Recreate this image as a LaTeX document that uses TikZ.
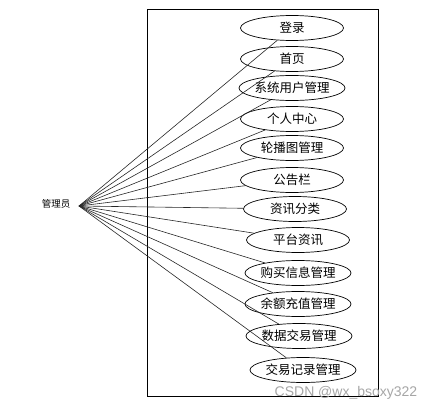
\documentclass[tikz,border=0pt]{standalone}
\usepackage{fontspec}
\newfontfamily\cjk{Noto Sans CJK SC}
\setsansfont{Liberation Sans}
\usetikzlibrary{shapes.geometric}
\begin{document}
\begin{tikzpicture}[x=1pt,y=-1pt,
  usecase/.style={ellipse,draw=black,fill=white,line width=0.7pt,minimum width=103pt,minimum height=25pt,inner sep=0pt,font=\cjk\fontsize{12.5}{14}\selectfont},
  assoc/.style={draw=black!85,line width=0.6pt},
  sysbox/.style={draw=black,line width=0.8pt}]
\useasboundingbox (0,0) rectangle (439,412);
\node[sysbox,minimum width=231pt,minimum height=387pt,inner sep=0pt,anchor=north west] (box) at (147,9) {};
\coordinate (actor) at (79,206);
\node[font=\cjk\fontsize{9.5}{11}\selectfont,anchor=east] (lbl) at (74,204) {管理员};
\node[usecase] (u1) at (292,28) {登录};
\node[usecase] (u2) at (292,59) {首页};
\node[usecase] (u3) at (292,88) {系统用户管理};
\node[usecase] (u4) at (292,119) {个人中心};
\node[usecase] (u5) at (292,148) {轮播图管理};
\node[usecase] (u6) at (292,180) {公告栏};
\node[usecase] (u7) at (295,209) {资讯分类};
\node[usecase] (u8) at (298,240) {平台资讯};
\node[usecase] (u9) at (298,273) {购买信息管理};
\node[usecase] (u10) at (298,304) {余额充值管理};
\node[usecase] (u11) at (299,336) {数据交易管理};
\node[usecase] (u12) at (303,370) {交易记录管理};
\foreach \i in {1,...,12} {\draw[assoc] (actor) -- (u\i);}
\node[font=\sffamily\fontsize{14}{16}\selectfont,text=black!35,anchor=center] (wm) at (346,393) {CSDN @wx\_bsoxy322};
\end{tikzpicture}
\end{document}
